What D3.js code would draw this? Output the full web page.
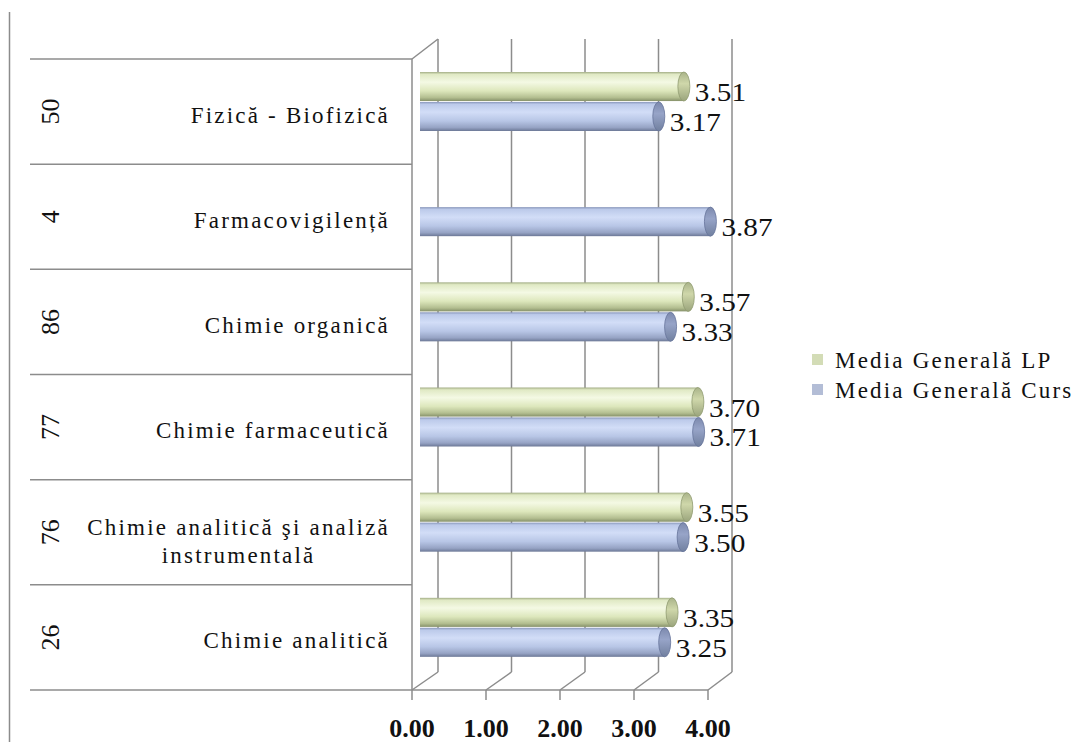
<!DOCTYPE html>
<html>
<head>
<meta charset="utf-8">
<script src="https://cdn.jsdelivr.net/npm/d3@7"></script>
<style>
  html, body { margin: 0; padding: 0; background: #fff; }
  svg { display: block; }
  text { font-family: "Liberation Serif", "Times New Roman", serif; fill: #111; }
</style>
</head>
<body>
<svg id="chart" width="1086" height="742"></svg>
<script>
// ---------- data ----------
const categories = [
  "Fizică - Biofizică",
  "Farmacovigilență",
  "Chimie organică",
  "Chimie farmaceutică",
  "Chimie analitică şi analiză\ninstrumentală",
  "Chimie analitică"
];
const counts = ["50", "4", "86", "77", "76", "26"];
const seriesNames = ["Media Generală LP", "Media Generală Curs"];
const mediaLP   = [3.51, null, 3.57, 3.70, 3.55, 3.35];
const mediaCurs = [3.17, 3.87, 3.33, 3.71, 3.50, 3.25];
const xTicks = [0, 1, 2, 3, 4];
const tickLabels = ["0.00", "1.00", "2.00", "3.00", "4.00"];

// ---------- setup ----------
const svg = d3.select("#chart");
const gridColor = "#8c8c8c";

const rowScale = d3.scaleBand().domain(categories).range([59, 690]).paddingInner(0).paddingOuter(0);
const xFront = d3.scaleLinear().domain([0, 4]).range([412, 708]);
const xBack  = d3.scaleLinear().domain([0, 4]).range([438, 732]);
const xMid   = d3.scaleLinear().domain([0, 4]).range([425, 720]);
const backTop = 39, backBottom = 672, frontTop = 59, frontBottom = 690;

// gradients
const defs = svg.append("defs");
function grad(id, stops) {
  const g = defs.append("linearGradient").attr("id", id).attr("x1", 0).attr("y1", 0).attr("x2", 0).attr("y2", 1);
  stops.forEach(([o, c]) => g.append("stop").attr("offset", o).attr("stop-color", c));
}
grad("gGreen", [[0, "#a3ae86"], [0.08, "#e0e9c4"], [0.35, "#f4f9e4"], [0.65, "#dde7bc"], [0.88, "#b3be90"], [1, "#86916a"]]);
grad("gBlue",  [[0, "#8896ba"], [0.08, "#bccaea"], [0.35, "#d2ddf7"], [0.65, "#b8c6e6"], [0.88, "#96a3c4"], [1, "#6c7896"]]);
grad("cGreen", [[0, "#a9b389"], [0.4, "#cfd7aa"], [1, "#9aa47c"]]);
grad("cBlue",  [[0, "#7c89ad"], [0.4, "#97a4c8"], [1, "#71809f"]]);

// outer left line
svg.append("line").attr("x1", 9.5).attr("x2", 9.5).attr("y1", 12).attr("y2", 742)
  .attr("stroke", gridColor).attr("stroke-width", 1.5);

// row separators (category table)
const sepYs = categories.map(c => rowScale(c)).concat([rowScale.range()[1]]);
svg.selectAll(".sep").data(sepYs).enter().append("line")
  .attr("x1", 30).attr("x2", xFront(0))
  .attr("y1", d => d).attr("y2", d => d)
  .attr("stroke", gridColor).attr("stroke-width", 1.5);

// floor front line
svg.append("line").attr("x1", xFront(0)).attr("x2", xFront(4))
  .attr("y1", frontBottom).attr("y2", frontBottom)
  .attr("stroke", gridColor).attr("stroke-width", 1.5);

// back gridlines + floor diagonals + ticks
const grid = svg.append("g");
xTicks.forEach(t => {
  grid.append("line").attr("x1", xBack(t)).attr("x2", xBack(t)).attr("y1", backTop).attr("y2", backBottom)
    .attr("stroke", gridColor).attr("stroke-width", 1.5);
  grid.append("line").attr("x1", xBack(t)).attr("x2", xFront(t)).attr("y1", backBottom).attr("y2", frontBottom)
    .attr("stroke", gridColor).attr("stroke-width", 1.5);
  grid.append("line").attr("x1", xFront(t)).attr("x2", xFront(t)).attr("y1", frontBottom).attr("y2", frontBottom + 10)
    .attr("stroke", gridColor).attr("stroke-width", 1.5);
});
// left wall front edge and top diagonal
svg.append("line").attr("x1", xFront(0)).attr("x2", xFront(0)).attr("y1", frontTop).attr("y2", frontBottom)
  .attr("stroke", gridColor).attr("stroke-width", 1.5);
svg.append("line").attr("x1", xFront(0)).attr("x2", xBack(0)).attr("y1", frontTop).attr("y2", backTop)
  .attr("stroke", gridColor).attr("stroke-width", 1.5);

// tick labels
svg.selectAll(".tl").data(xTicks).enter().append("text")
  .attr("x", d => xFront(d)).attr("y", 737)
  .attr("text-anchor", "middle").attr("font-size", 26).attr("font-weight", "bold")
  .text((d, i) => tickLabels[i]);

// bars
const series = [
  { name: seriesNames[0], values: mediaLP, fill: "url(#gGreen)", cap: "url(#cGreen)", capStroke: "#8f9a70" },
  { name: seriesNames[1], values: mediaCurs, fill: "url(#gBlue)", cap: "url(#cBlue)", capStroke: "#66739a" }
];
const inner = d3.scaleBand().domain(seriesNames).paddingInner(0.03);

categories.forEach((cat, ci) => {
  const top = rowScale(cat);
  inner.range([top + 13, top + 72]);
  series.forEach(s => {
    const v = s.values[ci];
    if (v == null) return;
    const y0 = inner(s.name), h = inner.bandwidth(), cy = y0 + h / 2;
    const g = svg.append("g");
    g.append("rect").attr("x", xMid(0) - 5).attr("y", y0).attr("width", xMid(v) - xMid(0) + 5).attr("height", h)
      .attr("fill", s.fill);
    g.append("ellipse").attr("cx", xMid(v)).attr("cy", cy).attr("rx", 6).attr("ry", h / 2)
      .attr("fill", s.cap).attr("stroke", s.capStroke).attr("stroke-width", 0.8);
    svg.append("g").attr("transform", `translate(${xMid(v) + 11},${cy + 14.5}) scale(1.17,1)`)
      .append("text").attr("font-size", 25).text(v.toFixed(2));
  });
});

// category labels
categories.forEach((cat, ci) => {
  const cy = rowScale(cat) + rowScale.bandwidth() / 2;
  const lines = cat.split("\n");
  const g = svg.append("g").attr("transform", `translate(390,${cy})`);
  if (lines.length === 1) {
    g.append("text").attr("y", 11).attr("text-anchor", "end").attr("font-size", 23)
      .attr("letter-spacing", 2.2).text(lines[0]);
  } else {
    const ts = lines.map((l, li) => g.append("text").attr("y", 3 + li * 28).attr("font-size", 23)
      .attr("letter-spacing", 2.2).text(l));
    const w = d3.max(ts, t => t.node().getComputedTextLength());
    ts.forEach(t => t.attr("x", -w / 2).attr("text-anchor", "middle"));
  }
  // counts (rotated)
  svg.append("g").attr("transform", `translate(50,${cy}) rotate(-90)`)
    .append("text").attr("text-anchor", "middle").attr("dy", "0.35em").attr("font-size", 26).text(counts[ci]);
});

// legend
const legendColors = ["#d3dcb6", "#b3bdd6"];
seriesNames.forEach((n, i) => {
  const by = 368 + i * 30;
  svg.append("rect").attr("x", 812).attr("y", by - 14).attr("width", 11).attr("height", 11).attr("fill", legendColors[i]);
  svg.append("text").attr("x", 835).attr("y", by).attr("font-size", 23).attr("letter-spacing", 2.2).text(n);
});
</script>
</body>
</html>
